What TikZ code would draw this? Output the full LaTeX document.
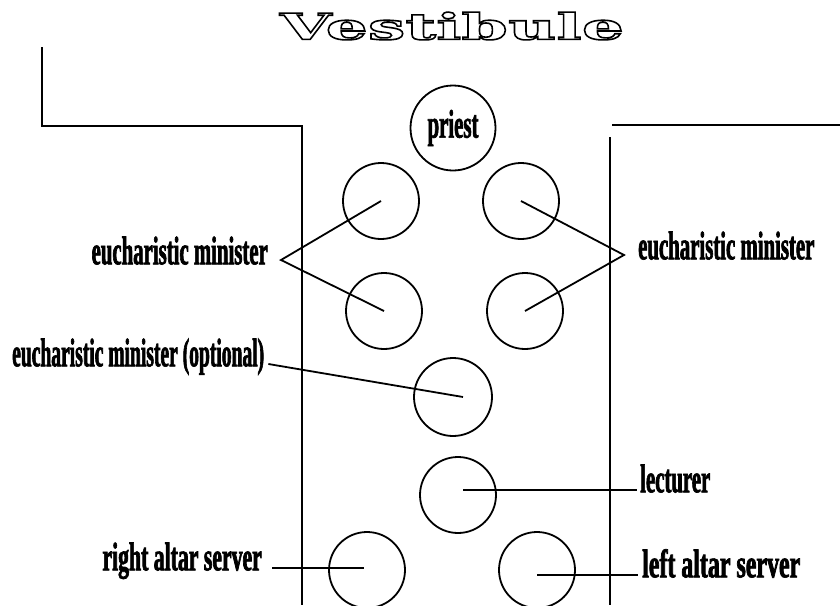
\documentclass[tikz,border=0pt]{standalone}
\usepackage{fontspec}
\setmainfont{Liberation Serif}
\newfontfamily\lblfont[FakeStretch=0.52,FakeBold=1.6]{Liberation Serif Bold}
\newfontfamily\titlefont[FakeStretch=1.85]{DejaVu Serif Bold}
\begin{document}
\begin{tikzpicture}[x=1pt,y=-1pt,
  seat/.style={circle, draw, line width=1.8pt, minimum size=76pt, inner sep=0pt},
  wall/.style={line width=2pt},
  lead/.style={line width=1.8pt},
  lbl/.style={font=\lblfont\fontsize{40}{40}\selectfont, inner sep=0pt}]
\useasboundingbox (0,0) rectangle (840,605);
\clip (0,0) rectangle (840,605);
% title (drawn first)
\node[inner sep=0pt] (title) at (452,26) {\titlefont\fontsize{36}{36}\selectfont\special{pdf:literal direct 1 Tr 1.6 w}Vestibule\special{pdf:literal direct 0 Tr}};
% walls
\draw[wall] (42,47) -- (42,126) -- (302,126) -- (302,605);
\draw[wall] (612,125) -- (840,125);
\draw[wall] (610,137) -- (610,605);
% seats
\node[seat, minimum size=85pt, font=\lblfont\fontsize{40}{40}\selectfont] (priest) at (453,128) {priest};
\node[seat] (emTL) at (381,201) {};
\node[seat] (emTR) at (521,201) {};
\node[seat] (emBL) at (384,311) {};
\node[seat] (emBR) at (525,311) {};
\node[seat, minimum size=78pt] (emopt) at (453,397) {};
\node[seat] (lect) at (458,495) {};
\node[seat] (ras) at (367,570) {};
\node[seat] (las) at (537,570) {};
% labels
\node[lbl, anchor=mid east] (lemL) at (268,262) {eucharistic minister};
\node[lbl, anchor=mid west] (lemR) at (638,257) {eucharistic minister};
\node[lbl, anchor=mid west] (lopt) at (12,364) {\scalebox{0.94}[1]{eucharistic minister (optional)}};
\node[lbl, anchor=mid west] (llect) at (640,490) {lecturer};
\node[lbl, anchor=mid east] (lras) at (262,568) {\scalebox{1.045}[1]{right altar server}};
\node[lbl, anchor=mid west] (llas) at (642,575) {\scalebox{1.15}[1]{left altar server}};
% connectors
\coordinate (apexL) at (281,260);
\coordinate (apexR) at (624,255);
\draw[lead] (emTL.center) -- (apexL) -- (emBL.center);
\draw[lead] (emTR.center) -- (apexR) -- (emBR.center);
\draw[lead] ([xshift=4pt]lopt.mid east) -- ([xshift=10pt]emopt.center);
\draw[lead] ([xshift=5pt,yshift=5pt]lect.center) -- ([xshift=-3pt]llect.mid west);
\draw[lead] ([xshift=10pt]lras.mid east) -- ([xshift=-3pt,yshift=2pt]ras.center);
\draw[lead] ([yshift=-5pt]las.center) -- ([xshift=-4pt]llas.mid west);
\end{tikzpicture}
\end{document}
